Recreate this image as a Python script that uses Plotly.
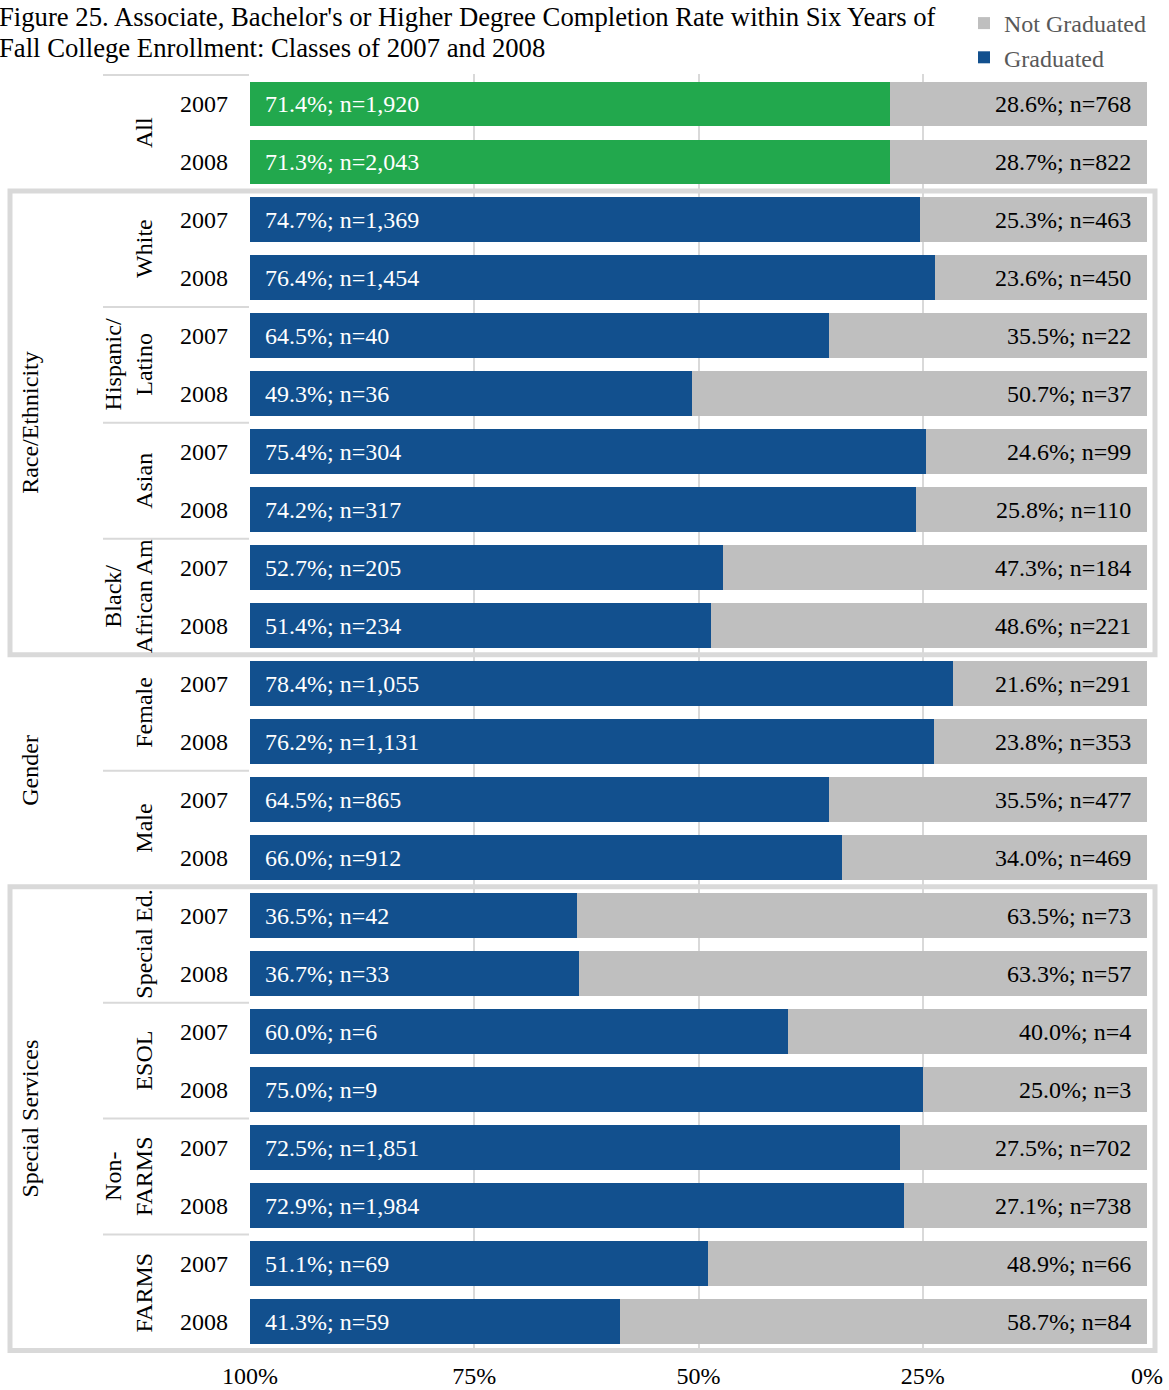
import plotly.graph_objects as go

# ---- data -------------------------------------------------------------
groups = ["", "", "Race/Ethnicity", "Race/Ethnicity", "Race/Ethnicity", "Race/Ethnicity",
          "Race/Ethnicity", "Race/Ethnicity", "Race/Ethnicity", "Race/Ethnicity",
          "Gender", "Gender", "Gender", "Gender",
          "Special Services", "Special Services", "Special Services", "Special Services",
          "Special Services", "Special Services", "Special Services", "Special Services"]
subgroups = ["All", "All", "White", "White", "Hispanic/<br>Latino", "Hispanic/<br>Latino",
             "Asian", "Asian", "Black/<br>African Am", "Black/<br>African Am",
             "Female", "Female", "Male", "Male",
             "Special Ed.", "Special Ed.", "ESOL", "ESOL",
             "Non-<br>FARMS", "Non-<br>FARMS", "FARMS", "FARMS"]
years = ["2007", "2008"] * 11

grad_pct = [71.4, 71.3, 74.7, 76.4, 64.5, 49.3, 75.4, 74.2, 52.7, 51.4, 78.4,
            76.2, 64.5, 66.0, 36.5, 36.7, 60.0, 75.0, 72.5, 72.9, 51.1, 41.3]
grad_n = [1920, 2043, 1369, 1454, 40, 36, 304, 317, 205, 234, 1055,
          1131, 865, 912, 42, 33, 6, 9, 1851, 1984, 69, 59]
not_pct = [28.6, 28.7, 25.3, 23.6, 35.5, 50.7, 24.6, 25.8, 47.3, 48.6, 21.6,
           23.8, 35.5, 34.0, 63.5, 63.3, 40.0, 25.0, 27.5, 27.1, 48.9, 58.7]
not_n = [768, 822, 463, 450, 22, 37, 99, 110, 184, 221, 291,
         353, 477, 469, 73, 57, 4, 3, 702, 738, 66, 84]

tick_vals = [100, 75, 50, 25, 0]
tick_text = ["100%", "75%", "50%", "25%", "0%"]

title_lines = [
    "Figure 25. Associate, Bachelor's or Higher Degree Completion Rate within Six Years of",
    "Fall College Enrollment: Classes of 2007 and 2008",
]

# ---- styling ----------------------------------------------------------
FONT = "Liberation Serif, Times New Roman, serif"
GREEN = "#22A84D"
BLUE = "#12508E"
GRAY = "#BFBFBF"
LINE = "#D9D9D9"

W, H = 1169, 1390
ML, MR, MT, MB = 250, 22, 74, 37
PW = W - ML - MR
PH = H - MT - MB


def px_x(px):
    """pixel column -> paper x"""
    return (px - ML) / PW


def px_y(py):
    """pixel row -> paper y"""
    return (H - MB - py) / PH


keys = [f"{s}|{y}" for s, y in zip(subgroups, years)]
is_all = [s == "All" for s in subgroups]

fig = go.Figure()

# not graduated segment sits at the 0% end (right side, reversed axis)
fig.add_trace(go.Bar(
    y=keys, x=not_pct, orientation="h", name="Not Graduated",
    marker=dict(color=GRAY, line=dict(width=0)),
))
# graduated segments stacked on top, reaching the 100% end (left)
fig.add_trace(go.Bar(
    y=[k for k, a in zip(keys, is_all) if not a],
    x=[v for v, a in zip(grad_pct, is_all) if not a],
    orientation="h", name="Graduated",
    marker=dict(color=BLUE, line=dict(width=0)),
))
fig.add_trace(go.Bar(
    y=[k for k, a in zip(keys, is_all) if a],
    x=[v for v, a in zip(grad_pct, is_all) if a],
    orientation="h", name="Graduated (All)", showlegend=False,
    marker=dict(color=GREEN, line=dict(width=0)),
))

annotations = []

# value labels on the bars
for k, gp, gn, npct, nn in zip(keys, grad_pct, grad_n, not_pct, not_n):
    annotations.append(dict(
        x=100, y=k, xref="x", yref="y", xanchor="left", xshift=13,
        text=f"{gp:.1f}%; n={gn:,}", showarrow=False,
        font=dict(family=FONT, size=24, color="white"),
    ))
    annotations.append(dict(
        x=0, y=k, xref="x", yref="y", xanchor="right", xshift=-14,
        text=f"{npct:.1f}%; n={nn:,}", showarrow=False,
        font=dict(family=FONT, size=24, color="black"),
    ))

# year labels
for k, yr in zip(keys, years):
    annotations.append(dict(
        x=px_x(230), y=k, xref="paper", yref="y", xanchor="right",
        text=yr, showarrow=False, font=dict(family=FONT, size=24, color="black"),
    ))

# subgroup labels (rotated), one per pair of rows
for i in range(0, len(keys), 2):
    annotations.append(dict(
        x=px_x(159), y=i + 0.5, xref="paper", yref="y", xanchor="right",
        text=subgroups[i], textangle=-90, showarrow=False,
        font=dict(family=FONT, size=24, color="black"),
    ))

# group labels (rotated)
group_names = []
for g in groups:
    if g and g not in group_names:
        group_names.append(g)
for g in group_names:
    idx = [i for i, v in enumerate(groups) if v == g]
    annotations.append(dict(
        x=px_x(30), y=(idx[0] + idx[-1]) / 2, xref="paper", yref="y",
        xanchor="center", text=g, textangle=-90, showarrow=False,
        font=dict(family=FONT, size=24, color="black"),
    ))

# two-line title
for line, py in zip(title_lines, [17, 48]):
    annotations.append(dict(
        x=px_x(-3), y=px_y(py), xref="paper", yref="paper",
        xanchor="left", yanchor="middle", align="left",
        text=line, showarrow=False,
        font=dict(family=FONT, size=26.7, color="black"),
    ))

shapes = []
# separators between subgroups in the label column
for yv in [-0.5, 3.5, 5.5, 7.5, 11.5, 15.5, 17.5, 19.5]:
    shapes.append(dict(
        type="line", xref="paper", yref="y",
        x0=px_x(103), x1=px_x(249), y0=yv, y1=yv,
        line=dict(color=LINE, width=2), layer="below",
    ))
# boxes around the Race/Ethnicity and Special Services groups
for y0, y1 in [(1.5, 9.5), (13.5, 21.5)]:
    shapes.append(dict(
        type="rect", xref="paper", yref="y",
        x0=px_x(10), x1=px_x(1155), y0=y0, y1=y1,
        line=dict(color=LINE, width=5), fillcolor="rgba(0,0,0,0)", layer="above",
    ))

fig.update_layout(
    width=W, height=H,
    margin=dict(l=ML, r=MR, t=MT, b=MB, pad=0, autoexpand=False),
    barmode="stack", bargap=0.225,
    plot_bgcolor="white", paper_bgcolor="white",
    font=dict(family=FONT, size=24, color="black"),
    xaxis=dict(
        range=[100, 0], tickmode="array", tickvals=tick_vals, ticktext=tick_text,
        showgrid=True, gridcolor=LINE, gridwidth=2, zeroline=False,
        showline=False, ticks="", ticklabelstandoff=6,
        tickfont=dict(family=FONT, size=24, color="black"),
        fixedrange=True, automargin=False,
    ),
    yaxis=dict(
        type="category", categoryorder="array", categoryarray=keys,
        autorange="reversed", showticklabels=False, showgrid=False,
        zeroline=False, showline=False, ticks="", fixedrange=True,
        automargin=False,
    ),
    legend=dict(
        x=px_x(964), y=px_y(1), xanchor="left", yanchor="top",
        traceorder="normal", bgcolor="rgba(0,0,0,0)",
        font=dict(family=FONT, size=24, color="#595959"),
        itemwidth=30,
    ),
    annotations=annotations,
    shapes=shapes,
    showlegend=True,
)

fig.write_html("out.html")
